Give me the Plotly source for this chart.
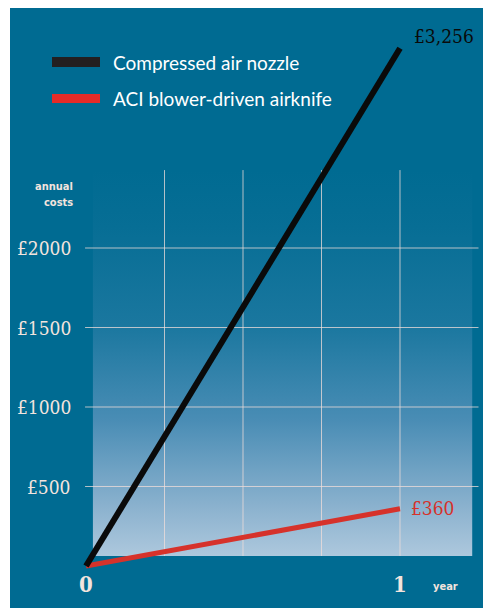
import plotly.graph_objects as go

# ---- data ----
years = [0, 1]
nozzle_costs = [0, 3256]
airknife_costs = [0, 360]
series_names = ["Compressed air nozzle", "ACI blower-driven airknife"]
end_labels = ["£3,256", "£360"]
y_ticks = [500, 1000, 1500, 2000]
y_tick_labels = ["£500", "£1000", "£1500", "£2000"]
x_grid = [0.25, 0.5, 0.75, 1.0]
x_tick_vals = [0, 1]
x_tick_labels = ["0", "1"]

BG = "#006b92"
BLACK = "#0a0a0a"
RED = "#d6322b"
LEG_RED = "#e52b28"
TXT = "#f3e4de"
GRID = "rgba(240,222,218,0.75)"
SERIF_C = "DejaVu Serif Condensed, Liberation Serif, serif"
SANS_C = "DejaVu Sans Condensed, DejaVu Sans, sans-serif"

W, H = 483, 608
# pixel mapping: x=0 -> 86px, x=1 -> 400px ; y=0 -> 566px, 0.159 px per £
xr = [-86 / 314, (W - 86) / 314]
yr = [(566 - H) / 0.159, 566 / 0.159]

fig = go.Figure()

# gradient panel
gx0, gx1, gy0, gy1 = 0.022, 1.23, 63, 2490
fig.add_trace(go.Scatter(
    x=[gx0, gx1, gx1, gx0, gx0], y=[gy0, gy0, gy1, gy1, gy0],
    mode="lines", line=dict(width=0), fill="toself",
    fillgradient=dict(type="vertical", colorscale=[
        [0.0, "#adc8dd"], [0.12, "#8db3cf"], [0.35, "#4a8db5"],
        [0.6, "#1a779f"], [0.85, "#076e95"], [1.0, BG]]),
    hoverinfo="skip", showlegend=False))

# grid lines
hx, hy = [], []
for v in y_ticks:
    hx += [-0.003, 1.25, None]
    hy += [v, v, None]
fig.add_trace(go.Scatter(x=hx, y=hy, mode="lines", line=dict(color=GRID, width=1),
                         hoverinfo="skip", showlegend=False))
vx, vy = [], []
for v in x_grid:
    vx += [v, v, None]
    vy += [gy0, gy1, None]
fig.add_trace(go.Scatter(x=vx, y=vy, mode="lines", line=dict(color=GRID, width=1),
                         hoverinfo="skip", showlegend=False))

# data lines
fig.add_trace(go.Scatter(x=years, y=airknife_costs, mode="lines",
                         line=dict(color=RED, width=5), name=series_names[1],
                         showlegend=False))
fig.add_trace(go.Scatter(x=years, y=nozzle_costs, mode="lines",
                         line=dict(color=BLACK, width=6), name=series_names[0],
                         showlegend=False))

ann = []
# y tick labels
for v, t in zip(y_ticks, y_tick_labels):
    ann.append(dict(x=73 / W, xref="paper", y=v, yref="y", text=t, showarrow=False,
                    xanchor="right", yanchor="middle",
                    font=dict(family=SERIF_C, size=19, color=TXT)))
ann.append(dict(x=75 / W, xref="paper", y=1 - 186 / H, yref="paper", text="annual",
                showarrow=False, xanchor="right", yanchor="middle",
                font=dict(family=SANS_C, size=11, color=TXT, weight="bold")))
ann.append(dict(x=75 / W, xref="paper", y=1 - 202 / H, yref="paper", text="costs",
                showarrow=False, xanchor="right", yanchor="middle",
                font=dict(family=SANS_C, size=11, color=TXT, weight="bold")))
# x tick labels
for v, t in zip(x_tick_vals, x_tick_labels):
    ann.append(dict(x=v, xref="x", y=1 - 584 / H, yref="paper", text=t, showarrow=False,
                    xanchor="center", yanchor="middle",
                    font=dict(family=SERIF_C, size=22, color=TXT, weight="bold")))
ann.append(dict(x=445 / W, xref="paper", y=1 - 586 / H, yref="paper", text="year",
                showarrow=False, xanchor="center", yanchor="middle",
                font=dict(family=SANS_C, size=11, color=TXT, weight="bold")))
# end labels
ann.append(dict(x=years[1], y=nozzle_costs[1], xref="x", yref="y", text=end_labels[0],
                showarrow=False, xanchor="left", yanchor="middle", xshift=12, yshift=12,
                font=dict(family=SERIF_C, size=19, color=BLACK)))
ann.append(dict(x=years[1], y=airknife_costs[1], xref="x", yref="y", text=end_labels[1],
                showarrow=False, xanchor="left", yanchor="middle", xshift=9, yshift=1,
                font=dict(family=SERIF_C, size=19, color=RED)))
# legend text
for i, (name, yy) in enumerate(zip(series_names, [62, 98])):
    ann.append(dict(x=111 / W, xref="paper", y=1 - yy / H, yref="paper", text=name,
                    showarrow=False, xanchor="left", yanchor="middle",
                    font=dict(family="Lato, Open Sans, sans-serif", size=19, color="#ffffff")))

shapes = [
    dict(type="rect", xref="paper", yref="paper", x0=10 / W, x1=1, y0=0, y1=1 - 8 / H,
         fillcolor=BG, line=dict(width=0), layer="below"),
    dict(type="rect", xref="paper", yref="paper", x0=52 / W, x1=100 / W,
         y0=1 - 67 / H, y1=1 - 57 / H, fillcolor="#231f20", line=dict(width=0)),
    dict(type="rect", xref="paper", yref="paper", x0=52 / W, x1=100 / W,
         y0=1 - 103 / H, y1=1 - 94 / H, fillcolor=LEG_RED, line=dict(width=0)),
]

fig.update_layout(
    width=W, height=H, margin=dict(l=0, r=0, t=0, b=0),
    paper_bgcolor="#ffffff", plot_bgcolor="rgba(0,0,0,0)",
    xaxis=dict(range=xr, visible=False, fixedrange=True),
    yaxis=dict(range=yr, visible=False, fixedrange=True),
    annotations=ann, shapes=shapes, showlegend=False,
)

fig.write_html("out.html")
